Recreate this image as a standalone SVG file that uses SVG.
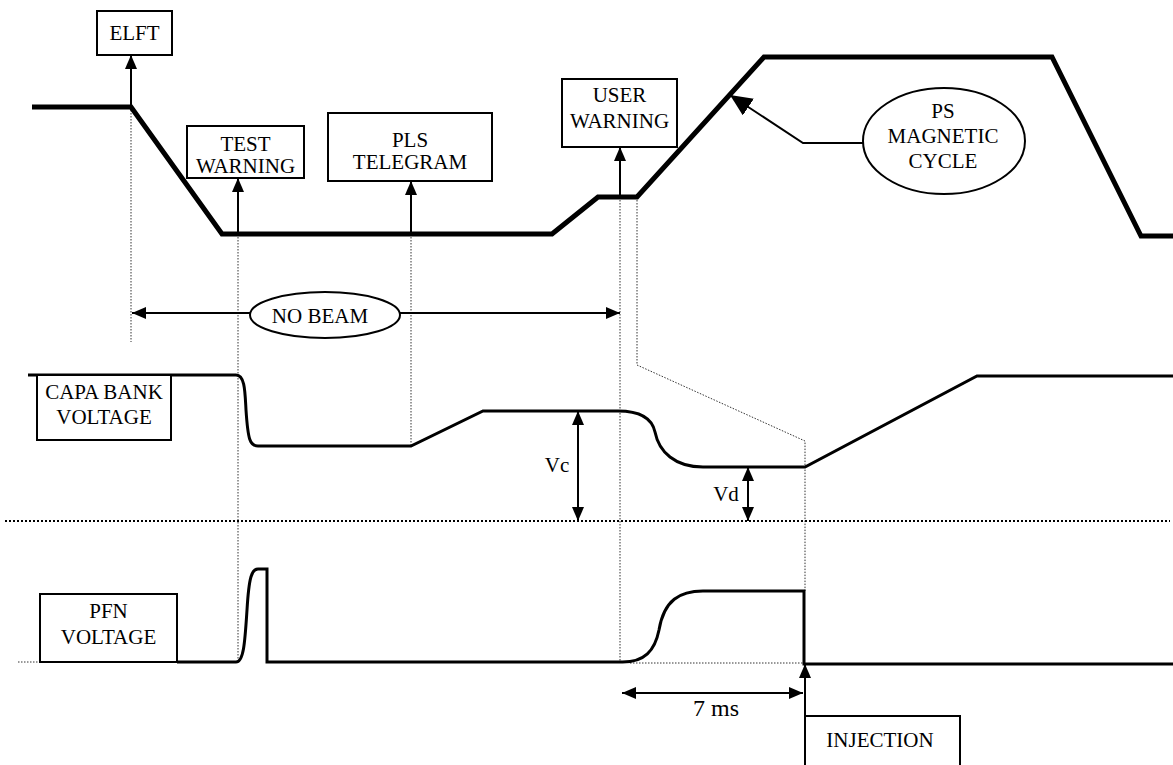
<svg xmlns="http://www.w3.org/2000/svg" width="1173" height="765" viewBox="0 0 1173 765">
<style>
  .bg{fill:#fff}
  .box{fill:#fff;stroke:#000;stroke-width:2}
  .t{font-family:'Liberation Serif','Times New Roman','DejaVu Serif',serif;font-size:21px;fill:#000;text-anchor:middle}
  .thick{fill:none;stroke:#000;stroke-width:5;stroke-linejoin:miter}
  .sig{fill:none;stroke:#000;stroke-width:3}
  .dot{fill:none;stroke:#333;stroke-width:1;stroke-dasharray:1.5 1.5}
  .dot2{fill:none;stroke:#000;stroke-width:2;stroke-dasharray:2 2}
  .arr{fill:none;stroke:#000;stroke-width:2}
</style>
<defs>
  <marker id="ah" viewBox="0 0 14 12" refX="14" refY="6" markerWidth="14" markerHeight="12" markerUnits="userSpaceOnUse" orient="auto-start-reverse">
    <path d="M0,0 L14,6 L0,12 z" fill="#000"/>
  </marker>
  <marker id="ahBig" viewBox="0 0 22 20" refX="22" refY="10" markerWidth="22" markerHeight="20" markerUnits="userSpaceOnUse" orient="auto">
    <path d="M0,0 L22,10 L0,20 z" fill="#000"/>
  </marker>
</defs>
<rect class="bg" x="0" y="0" width="1173" height="765"/>

<g id="guides">
  <path class="dot" d="M131,107 V342"/>
  <path class="dot" d="M238,234 V662"/>
  <path class="dot" d="M411,234 V447"/>
  <path class="dot" d="M620,197 V663"/>
  <path class="dot" d="M637,197 V365 L805,441 V591"/>
  <path class="dot" d="M18,662 H40"/>
  <path class="dot" d="M630,663 H804"/>
  <path class="dot2" d="M5,521 H1170"/>
</g>

<g id="ps-cycle-curve">
  <path class="thick" d="M32,107 H131 L222,234 H552 L598,197 H637 L764,57 H1052 L1141,236 H1173"/>
</g>
<g id="capa-curve">
  <path class="sig" d="M28,375 H236 C245,375 245,392 246,410 C248,440 250,446 258,446 H411 L483,411 H618 C640,411 652,418 655,432 C659,452 675,467 703,467 H805 L977,376 H1173"/>
</g>
<g id="pfn-curve">
  <path class="sig" d="M177,662 H236 C244,662 245,640 247,610 C249,576 252,569 258,569 H267 V662 H620 C645,663 655,650 659,630 C664,600 680,591 703,591 H804 V664 H1173"/>
</g>

<g id="elft">
  <rect class="box" x="97" y="11" width="75" height="44"/>
  <text class="t" x="134.5" y="40" font-family="Liberation Serif, serif">ELFT</text>
</g>
<g id="test-warning">
  <rect class="box" x="187" y="126" width="117" height="52"/>
  <text class="t" x="245.5" y="151" font-family="Liberation Serif, serif">TEST</text>
  <text class="t" x="245.5" y="173" font-family="Liberation Serif, serif">WARNING</text>
</g>
<g id="pls-telegram">
  <rect class="box" x="328" y="113" width="164" height="68"/>
  <text class="t" x="410" y="147" font-family="Liberation Serif, serif">PLS</text>
  <text class="t" x="410" y="169" font-family="Liberation Serif, serif">TELEGRAM</text>
</g>
<g id="user-warning">
  <rect class="box" x="562" y="79" width="115" height="68"/>
  <text class="t" x="619.5" y="102" font-family="Liberation Serif, serif">USER</text>
  <text class="t" x="619.5" y="128" font-family="Liberation Serif, serif">WARNING</text>
</g>
<g id="ps-magnetic-cycle">
  <ellipse class="box" cx="944" cy="141" rx="81" ry="53"/>
  <text class="t" x="943" y="118" font-family="Liberation Serif, serif">PS</text>
  <text class="t" x="943" y="143" font-family="Liberation Serif, serif">MAGNETIC</text>
  <text class="t" x="943" y="168" font-family="Liberation Serif, serif">CYCLE</text>
</g>
<g id="capa-bank">
  <rect class="box" x="37" y="375" width="134" height="65"/>
  <text class="t" x="104" y="399" font-family="Liberation Serif, serif">CAPA BANK</text>
  <text class="t" x="104" y="424" font-family="Liberation Serif, serif">VOLTAGE</text>
</g>
<g id="pfn-voltage">
  <rect class="box" x="40" y="594" width="137" height="68"/>
  <text class="t" x="108.5" y="618" font-family="Liberation Serif, serif">PFN</text>
  <text class="t" x="108.5" y="644" font-family="Liberation Serif, serif">VOLTAGE</text>
</g>

<g id="connectors">
  <path class="arr" d="M131,107 V55" marker-end="url(#ah)"/>
  <path class="arr" d="M238,234 V178" marker-end="url(#ah)"/>
  <path class="arr" d="M411,234 V181" marker-end="url(#ah)"/>
  <path class="arr" d="M620,197 V147" marker-end="url(#ah)"/>
  <path class="arr" d="M863,143 H803 L730,95" marker-end="url(#ahBig)"/>
  <path class="arr" d="M250,313 H132" marker-end="url(#ah)"/>
  <path class="arr" d="M400,313 H620" marker-end="url(#ah)"/>
  <path class="arr" d="M578,411 V521" marker-start="url(#ah)" marker-end="url(#ah)"/>
  <path class="arr" d="M748,467 V521" marker-start="url(#ah)" marker-end="url(#ah)"/>
  <path class="arr" d="M622,693 H803" marker-start="url(#ah)" marker-end="url(#ah)"/>
  <path class="arr" d="M805,765 V664" marker-end="url(#ah)"/>
</g>

<g id="no-beam">
  <ellipse class="box" cx="325" cy="315" rx="75" ry="23"/>
  <text class="t" x="320" y="323" font-family="Liberation Serif, serif">NO BEAM</text>
</g>
<g id="labels">
  <text class="t" x="557" y="472" font-family="Liberation Serif, serif">Vc</text>
  <text class="t" x="726" y="501" font-family="Liberation Serif, serif">Vd</text>
  <text class="t" x="716" y="716" font-family="Liberation Serif, serif" font-size="24" style="font-size:24px">7 ms</text>
</g>
<g id="injection">
  <rect class="box" x="805" y="716" width="155" height="60"/>
  <text class="t" x="880" y="747" font-family="Liberation Serif, serif">INJECTION</text>
</g>
</svg>
